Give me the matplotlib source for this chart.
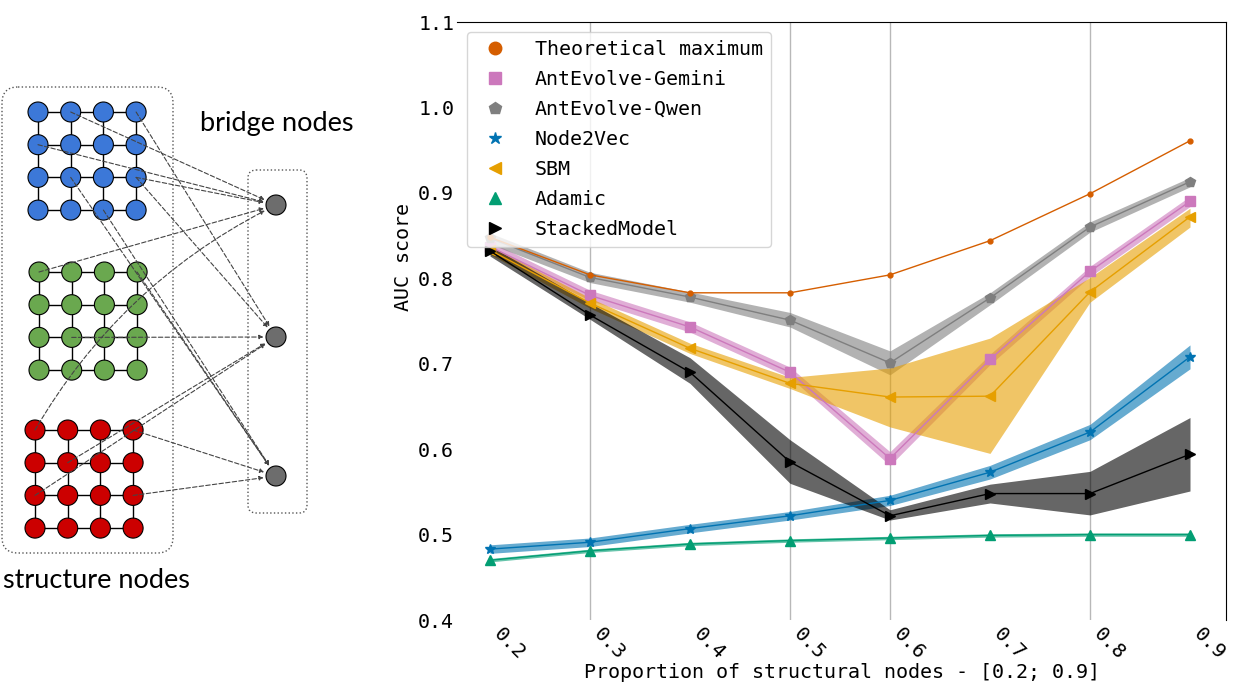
import numpy as np
import matplotlib
matplotlib.use("Agg")
import matplotlib.pyplot as plt
from matplotlib.lines import Line2D
from matplotlib.patches import Circle, FancyBboxPatch, FancyArrowPatch

# ---- data ----
props = [0.2, 0.3, 0.4, 0.5, 0.6, 0.7, 0.8, 0.9]
tick_labels = ["0.2", "0.3", "0.4", "0.5", "0.6", "0.7", "0.8", "0.9"]

theory = [0.848, 0.804, 0.783, 0.783, 0.804, 0.844, 0.899, 0.961]

gemini = [0.837, 0.780, 0.743, 0.690, 0.589, 0.705, 0.808, 0.890]
gemini_lo = [0.831, 0.774, 0.737, 0.684, 0.581, 0.699, 0.802, 0.884]
gemini_hi = [0.843, 0.786, 0.749, 0.696, 0.597, 0.711, 0.814, 0.896]

qwen = [0.847, 0.801, 0.778, 0.751, 0.701, 0.777, 0.860, 0.913]
qwen_lo = [0.840, 0.795, 0.772, 0.743, 0.687, 0.769, 0.854, 0.907]
qwen_hi = [0.853, 0.807, 0.784, 0.760, 0.715, 0.783, 0.866, 0.918]

n2v = [0.483, 0.491, 0.507, 0.522, 0.540, 0.573, 0.620, 0.708]
n2v_lo = [0.478, 0.486, 0.502, 0.517, 0.534, 0.565, 0.611, 0.694]
n2v_hi = [0.488, 0.496, 0.512, 0.527, 0.546, 0.581, 0.629, 0.722]

sbm = [0.833, 0.771, 0.718, 0.677, 0.661, 0.662, 0.784, 0.872]
sbm_lo = [0.828, 0.765, 0.712, 0.671, 0.626, 0.595, 0.772, 0.860]
sbm_hi = [0.838, 0.777, 0.724, 0.684, 0.695, 0.730, 0.801, 0.882]

adamic = [0.470, 0.481, 0.489, 0.493, 0.496, 0.499, 0.500, 0.500]
adamic_lo = [0.468, 0.479, 0.487, 0.491, 0.494, 0.497, 0.498, 0.498]
adamic_hi = [0.472, 0.483, 0.491, 0.495, 0.498, 0.501, 0.502, 0.502]

stacked = [0.832, 0.757, 0.690, 0.585, 0.522, 0.548, 0.548, 0.594]
stacked_lo = [0.826, 0.752, 0.677, 0.560, 0.517, 0.537, 0.523, 0.551]
stacked_hi = [0.838, 0.771, 0.707, 0.611, 0.529, 0.559, 0.574, 0.637]

fig = plt.figure(figsize=(12.51, 6.88), dpi=100)

# ---- left: illustration ----
W, H = 1251, 688
axd = fig.add_axes([0, 0, 360 / W, 1])
axd.set_xlim(0, 360)
axd.set_ylim(688, 0)
axd.axis("off")

r = 10
step = 32.7
groups = {"blue": ((38, 112), "#3c78d8"),
          "green": ((39, 272), "#6aa84f"),
          "red": ((35, 430), "#cc0000")}
bridges = [(276, 205), (276, 337), (276, 476)]


def pos(g, row, col):
    (x0, y0), _ = groups[g]
    return x0 + col * step, y0 + row * step


# boxes
axd.add_patch(FancyBboxPatch((2, 87), 171, 466, boxstyle="round,pad=0,rounding_size=16",
                             fill=False, ls=":", lw=1, ec="#555555"))
axd.add_patch(FancyBboxPatch((248, 170), 59, 343, boxstyle="round,pad=0,rounding_size=8",
                             fill=False, ls=":", lw=1, ec="#555555"))

# grid edges + nodes
for g, (_, col) in groups.items():
    for i in range(4):
        xa, ya = pos(g, i, 0)
        xb, yb = pos(g, i, 3)
        axd.plot([xa, xb], [ya, yb], color="black", lw=1, zorder=2)
        xa, ya = pos(g, 0, i)
        xb, yb = pos(g, 3, i)
        axd.plot([xa, xb], [ya, yb], color="black", lw=1, zorder=2)
    for i in range(4):
        for j in range(4):
            axd.add_patch(Circle(pos(g, i, j), r, fc=col, ec="black", lw=0.8, zorder=3))

for b in bridges:
    axd.add_patch(Circle(b, r, fc="#6d6d6d", ec="black", lw=0.8, zorder=3))

links = [("blue", 0, 1, 0, 0), ("blue", 1, 0, 0, 0), ("blue", 2, 3, 0, 0),
         ("blue", 0, 3, 1, 0), ("blue", 2, 3, 1, 0),
         ("blue", 2, 1, 2, 0), ("blue", 3, 2, 2, 0),
         ("green", 0, 0, 0, 0), ("green", 2, 1, 1, 0), ("green", 0, 3, 2, 0),
         ("red", 0, 0, 0, -0.15), ("red", 1, 1, 1, 0), ("red", 2, 0, 1, 0),
         ("red", 0, 3, 2, 0), ("red", 2, 3, 2, 0)]
for g, i, j, b, rad in links:
    p = FancyArrowPatch(pos(g, i, j), bridges[b], arrowstyle="-|>", mutation_scale=6,
                        connectionstyle=f"arc3,rad={rad}", ls=(0, (4, 2)), lw=0.8,
                        color="#444444", shrinkA=0, shrinkB=9, zorder=4)
    axd.add_patch(p)

axd.text(200, 123, "bridge nodes", family="Lato", fontsize=19.5, va="center", ha="left")
axd.text(3, 580, "structure nodes", family="Lato", fontsize=19.5, va="center", ha="left")

# ---- right: AUC chart ----
plt.rcParams["font.family"] = ["DejaVu Sans Mono"]
fs = 14.4
ax = fig.add_axes([457 / W, 1 - 620 / H, (1226 - 457) / W, (620 - 22) / H])

series = [
    ("AntEvolve-Gemini", gemini, gemini_lo, gemini_hi, "#cc78bc", "s", 7),
    ("AntEvolve-Qwen", qwen, qwen_lo, qwen_hi, "#7f7f7f", "p", 7),
    ("Node2Vec", n2v, n2v_lo, n2v_hi, "#0173b2", "*", 7),
    ("SBM", sbm, sbm_lo, sbm_hi, "#e69f00", "<", 7),
    ("Adamic", adamic, adamic_lo, adamic_hi, "#029e73", "^", 7),
    ("StackedModel", stacked, stacked_lo, stacked_hi, "black", ">", 7),
]
for name, m, lo, hi, c, mk, ms in series:
    ax.fill_between(props, lo, hi, color=c, alpha=0.6, lw=0)
    ax.plot(props, m, color=c, marker=mk, ms=ms, lw=1)

ax.plot(props, theory, color="#d55e00", marker="o", ms=3.5, lw=1)

ax.set_xlim(0.167, 0.936)
ax.set_ylim(0.4, 1.1)
ax.set_yticks([0.4, 0.5, 0.6, 0.7, 0.8, 0.9, 1.0, 1.1])
ax.set_xticks(props)
ax.set_xticklabels(tick_labels, rotation=-45, ha="left", fontsize=fs)
ax.tick_params(axis="y", length=0, pad=2, labelsize=fs)
ax.tick_params(axis="x", length=0, pad=3)
ax.grid(axis="x", color="#b8b8b8", lw=1)
for k, gl in enumerate(ax.xaxis.get_gridlines()):
    if k in (0, 2, 5, 7):
        gl.set_visible(False)
ax.set_axisbelow(True)
for s in ("left", "bottom"):
    ax.spines[s].set_visible(False)

ax.set_ylabel("AUC score", fontsize=fs)
ax.yaxis.set_label_coords(-0.057, 0.607)
ax.set_xlabel("Proportion of structural nodes - [0.2; 0.9]", fontsize=fs, labelpad=0)

handles = [Line2D([], [], ls="none", marker="o", color="#d55e00", ms=9),
           Line2D([], [], ls="none", marker="s", color="#cc78bc", ms=9),
           Line2D([], [], ls="none", marker="p", color="#7f7f7f", ms=9),
           Line2D([], [], ls="none", marker="*", color="#0173b2", ms=9),
           Line2D([], [], ls="none", marker="<", color="#e69f00", ms=9),
           Line2D([], [], ls="none", marker="^", color="#029e73", ms=9),
           Line2D([], [], ls="none", marker=">", color="black", ms=9)]
labels = ["Theoretical maximum", "AntEvolve-Gemini", "AntEvolve-Qwen", "Node2Vec",
          "SBM", "Adamic", "StackedModel"]
ax.legend(handles, labels, loc="upper left", fontsize=fs, labelspacing=0.55,
          handletextpad=1.0)

fig.savefig("out.png", dpi=100)
